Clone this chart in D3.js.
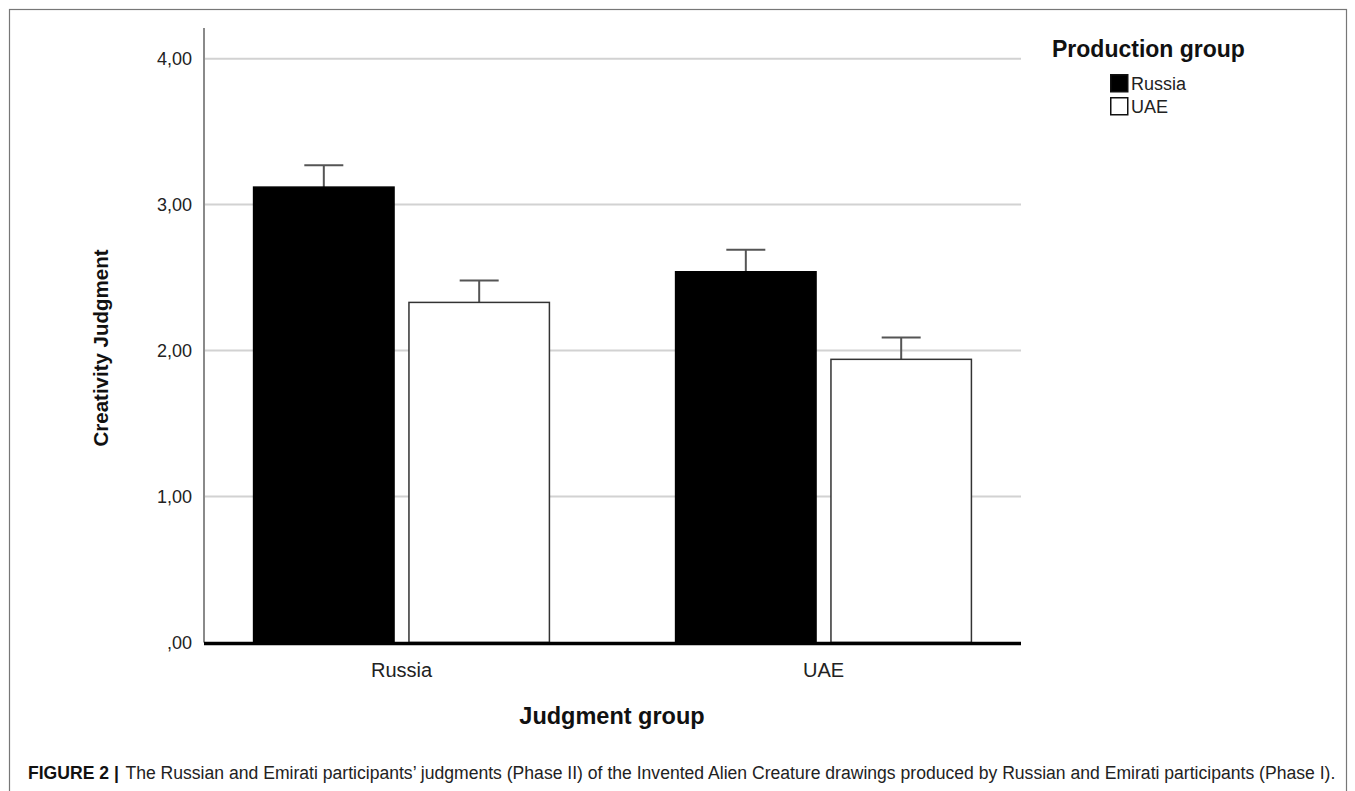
<!DOCTYPE html>
<html>
<head>
<meta charset="utf-8">
<script src="https://cdn.jsdelivr.net/npm/d3@7"></script>
<style>
  html, body { margin: 0; padding: 0; background: #fff; }
  svg { display: block; }
  text { font-family: "Liberation Sans", Arial, Helvetica, sans-serif; }
</style>
</head>
<body>
<svg id="chart" width="1355" height="791"></svg>
<script>
// ---- data ----
const judgmentGroups = ["Russia", "UAE"];
const productionGroups = ["Russia", "UAE"];
const meansRussiaProduction = [3.12, 2.54];
const meansUAEProduction = [2.33, 1.94];
const upperRussiaProduction = [3.27, 2.69];
const upperUAEProduction = [2.48, 2.09];
const yTicks = [0, 1, 2, 3, 4];
const yLabel = "Creativity Judgment";
const xLabel = "Judgment group";
const legendTitle = "Production group";
const captionLead = "FIGURE 2 |";
const captionText = "The Russian and Emirati participants\u2019 judgments (Phase II) of the Invented Alien Creature drawings produced by Russian and Emirati participants (Phase I).";

const fills = { "Russia": "#000000", "UAE": "#ffffff" };

const rows = [];
judgmentGroups.forEach((jg, i) => {
  rows.push({ jg, pg: "Russia", mean: meansRussiaProduction[i], upper: upperRussiaProduction[i] });
  rows.push({ jg, pg: "UAE", mean: meansUAEProduction[i], upper: upperUAEProduction[i] });
});

const svg = d3.select("#chart");

// frame
svg.append("rect").attr("x", 9.5).attr("y", 9.5).attr("width", 1337).attr("height", 800)
  .attr("fill", "none").attr("stroke", "#777").attr("stroke-width", 1.2);

const plotL = 204, plotR = 1021, plotB = 642.5, plotT = 28;

const x0 = d3.scaleBand().domain(judgmentGroups).range([plotL, plotR])
  .paddingInner(0.299).paddingOuter(0.1175);
const x1 = d3.scaleBand().domain(productionGroups).range([0, x0.bandwidth()])
  .paddingInner(0.096).paddingOuter(0);
const y = d3.scaleLinear().domain([0, 4.21]).range([plotB, plotT]);

const loc = d3.formatLocale({ decimal: ",", thousands: ".", grouping: [3], currency: ["", ""] });
const fmt = v => loc.format(".2f")(v).replace(/^0,/, ",");

// gridlines
svg.append("g").selectAll("line").data(yTicks.filter(t => t > 0)).join("line")
  .attr("x1", plotL).attr("x2", plotR)
  .attr("y1", d => y(d)).attr("y2", d => y(d))
  .attr("stroke", "#d2d2d2").attr("stroke-width", 2);

// y axis
const yAxis = d3.axisLeft(y).tickValues(yTicks).tickFormat(fmt).tickSize(0).tickPadding(12);
const gy = svg.append("g").attr("transform", `translate(${plotL},0)`).call(yAxis);
gy.select(".domain").remove();
gy.selectAll("text").attr("font-size", 18).attr("fill", "#222")
  .attr("font-family", "'Liberation Sans', Arial, sans-serif");
svg.append("line").attr("x1", plotL).attr("x2", plotL).attr("y1", plotT).attr("y2", plotB)
  .attr("stroke", "#8a8a8a").attr("stroke-width", 2);

// error bars (upper only)
const gErr = svg.append("g");
rows.forEach(r => {
  const cx = x0(r.jg) + x1(r.pg) + x1.bandwidth() / 2;
  gErr.append("line").attr("x1", cx).attr("x2", cx).attr("y1", y(r.mean)).attr("y2", y(r.upper))
    .attr("stroke", "#555").attr("stroke-width", 2);
  gErr.append("line").attr("x1", cx - 19.5).attr("x2", cx + 19.5).attr("y1", y(r.upper)).attr("y2", y(r.upper))
    .attr("stroke", "#555").attr("stroke-width", 2);
});

// bars
svg.append("g").selectAll("rect").data(rows).join("rect")
  .attr("x", d => x0(d.jg) + x1(d.pg))
  .attr("width", x1.bandwidth())
  .attr("y", d => y(d.mean))
  .attr("height", d => plotB - y(d.mean))
  .attr("fill", d => fills[d.pg])
  .attr("stroke", d => d.pg === "Russia" ? "#000" : "#333")
  .attr("stroke-width", 1.5);

// baseline
svg.append("line").attr("x1", plotL).attr("x2", plotR).attr("y1", plotB + 1).attr("y2", plotB + 1)
  .attr("stroke", "#000").attr("stroke-width", 3.5);

// x axis labels
const xAxis = d3.axisBottom(x0).tickSize(0).tickPadding(20);
const gx = svg.append("g").attr("transform", `translate(0,${plotB})`).call(xAxis);
gx.select(".domain").remove();
gx.selectAll("text").attr("font-size", 20).attr("fill", "#222")
  .attr("font-family", "'Liberation Sans', Arial, sans-serif");

// axis titles
svg.append("text").attr("x", 612).attr("y", 724).attr("text-anchor", "middle")
  .attr("font-size", 23.5).attr("font-weight", "bold").attr("fill", "#111").text(xLabel);
svg.append("text").attr("transform", "translate(108,348) rotate(-90)").attr("text-anchor", "middle")
  .attr("font-size", 20.5).attr("font-weight", "bold").attr("fill", "#111").text(yLabel);

// legend
svg.append("text").attr("x", 1052).attr("y", 57).attr("font-size", 23).attr("font-weight", "bold")
  .attr("fill", "#111").text(legendTitle);
const lg = svg.append("g").selectAll("g").data(productionGroups).join("g")
  .attr("transform", (d, i) => `translate(1110,${74 + i * 23})`);
lg.append("rect").attr("x", 0.75).attr("y", 0.75).attr("width", 17).attr("height", 17)
  .attr("fill", d => fills[d]).attr("stroke", "#111").attr("stroke-width", 1.5);
lg.append("text").attr("x", 21).attr("y", 16).attr("font-size", 18).attr("fill", "#222").text(d => d);

// caption (horizontally condensed to fit like the reference's narrow face)
const capG = svg.append("g");
const lead = capG.append("text").attr("x", 0).attr("y", 0).attr("font-size", 19)
  .attr("font-weight", "bold").attr("fill", "#111").text(captionLead);
const leadW = lead.node().getComputedTextLength();
const body = capG.append("text").attr("x", leadW + 7).attr("y", 0).attr("font-size", 19)
  .attr("fill", "#222").text(captionText);
const totalW = leadW + 7 + body.node().getComputedTextLength();
const sx = 1308 / totalW;
capG.attr("transform", `translate(28,779) scale(${sx},1)`);
</script>
</body>
</html>
